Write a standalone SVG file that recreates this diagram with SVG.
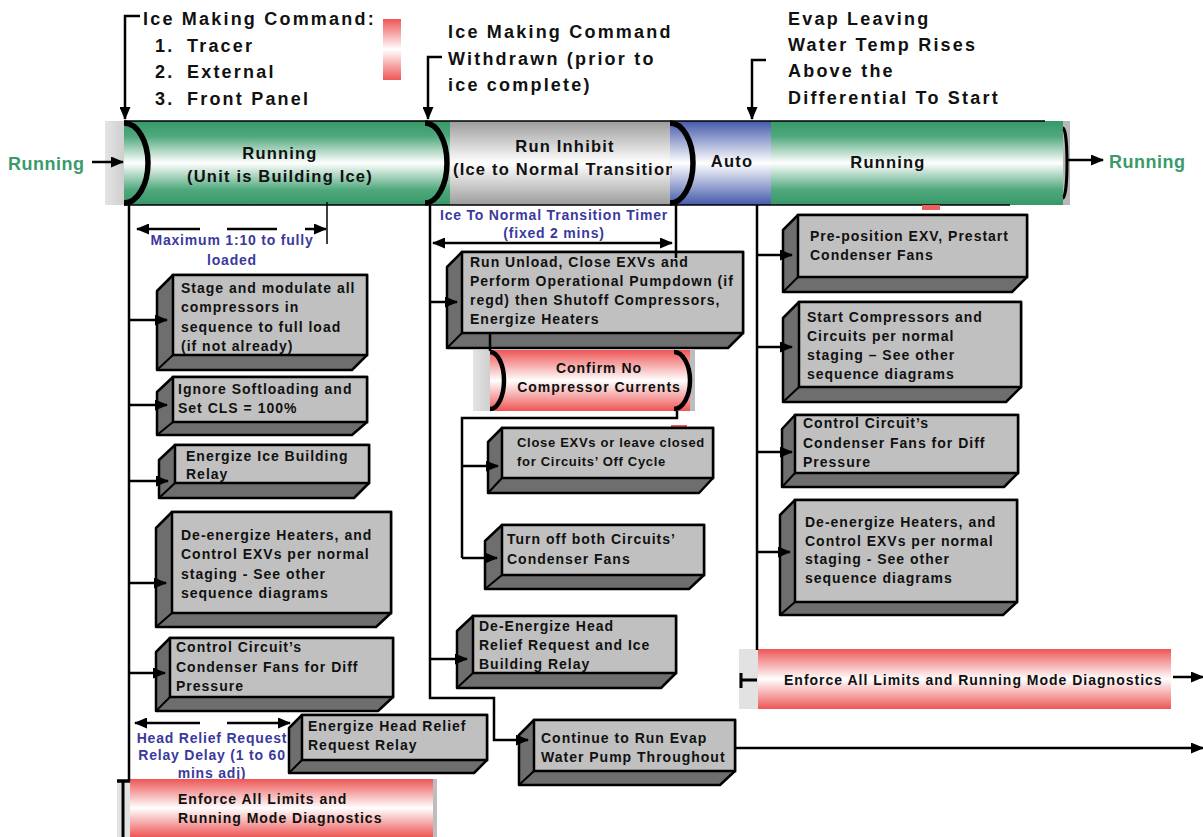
<svg xmlns="http://www.w3.org/2000/svg" width="1203" height="837" viewBox="0 0 1203 837">
<defs>
<linearGradient id="gGreen" x1="0" y1="0" x2="0" y2="1">
<stop offset="0" stop-color="#379868"/><stop offset="0.18" stop-color="#4fa87c"/><stop offset="0.5" stop-color="#ffffff"/><stop offset="0.82" stop-color="#4fa87c"/><stop offset="1" stop-color="#379868"/>
</linearGradient>
<linearGradient id="gGray" x1="0" y1="0" x2="0" y2="1">
<stop offset="0" stop-color="#9c9c9c"/><stop offset="0.5" stop-color="#ffffff"/><stop offset="1" stop-color="#9c9c9c"/>
</linearGradient>
<linearGradient id="gBlue" x1="0" y1="0" x2="0" y2="1">
<stop offset="0" stop-color="#4459aa"/><stop offset="0.5" stop-color="#ffffff"/><stop offset="1" stop-color="#4459aa"/>
</linearGradient>
<linearGradient id="gRed" x1="0" y1="0" x2="0" y2="1">
<stop offset="0" stop-color="#ee5656"/><stop offset="0.5" stop-color="#ffffff"/><stop offset="1" stop-color="#ee5656"/>
</linearGradient>
<linearGradient id="gCap" x1="0" y1="0" x2="1" y2="0">
<stop offset="0" stop-color="#e4e4e4"/><stop offset="1" stop-color="#cfcfcf"/>
</linearGradient>
<marker id="ah" markerWidth="13" markerHeight="11" refX="12" refY="5.5" orient="auto-start-reverse" markerUnits="userSpaceOnUse">
<path d="M0,0 L13,5.5 L0,11 z" fill="#000"/>
</marker>
<clipPath id="clipInhibit"><rect x="450" y="121" width="222" height="84"/></clipPath>
<style>
.side{fill:#6e6e6e;stroke:#000;stroke-width:2.5;stroke-linejoin:round}
.face{fill:#c0c0c0;stroke:#000;stroke-width:2.5}
.edge{stroke:#000;stroke-width:2;fill:none}
.bt{font-family:"Liberation Sans",Arial,sans-serif;font-weight:bold;font-size:14px;letter-spacing:1px;fill:#111}
.bts{font-family:"Liberation Sans",Arial,sans-serif;font-weight:bold;font-size:13px;letter-spacing:0.7px;fill:#111}
.ann{font-family:"Liberation Sans",Arial,sans-serif;font-weight:bold;font-size:18px;letter-spacing:2.2px;fill:#111}
.bar{font-family:"Liberation Sans",Arial,sans-serif;font-weight:bold;font-size:16.5px;letter-spacing:1.2px;fill:#111}
.grn{font-family:"Liberation Sans",Arial,sans-serif;font-weight:bold;font-size:18px;letter-spacing:0.5px;fill:#3a9a6a}
.blu{font-family:"Liberation Sans",Arial,sans-serif;font-weight:bold;font-size:14px;letter-spacing:0.8px;fill:#3a3a9c}
.ln{stroke:#000;stroke-width:2.5;fill:none}
.ar{stroke:#000;stroke-width:2.5;fill:none;marker-end:url(#ah)}
.arc{stroke:#000;stroke-width:5.5;fill:none}
</style>
</defs>

<!-- annotations -->
<g id="ann-cmd">
<text class="ann" x="143" y="25">Ice Making Command:</text>
<text class="ann" y="52"><tspan x="155">1.</tspan><tspan x="187">Tracer</tspan></text>
<text class="ann" y="78"><tspan x="155">2.</tspan><tspan x="187">External</tspan></text>
<text class="ann" y="105"><tspan x="155">3.</tspan><tspan x="187">Front Panel</tspan></text>
</g>
<rect x="383" y="19" width="18" height="61" fill="url(#gRed)"/>
<g id="ann-withdrawn">
<text class="ann" x="448" y="38">Ice Making Command</text>
<text class="ann" x="448" y="65">Withdrawn (prior to</text>
<text class="ann" x="448" y="91">ice complete)</text>
</g>
<g id="ann-evap">
<text class="ann" x="788" y="25">Evap Leaving</text>
<text class="ann" x="788" y="51">Water Temp Rises</text>
<text class="ann" x="788" y="77">Above the</text>
<text class="ann" x="788" y="104">Differential To Start</text>
</g>

<!-- main state bar -->
<g id="state-bar">
<rect x="105" y="121" width="19" height="84" fill="url(#gCap)"/>
<rect x="124" y="121" width="326" height="84" fill="url(#gGreen)"/>
<rect x="450" y="121" width="222" height="84" fill="url(#gGray)"/>
<rect x="670" y="121" width="101" height="84" fill="url(#gBlue)"/>
<rect x="771" y="121" width="293" height="84" fill="url(#gGreen)"/>
<rect x="1063" y="121" width="7" height="84" fill="#b8b8b8"/>
<line x1="124" y1="121" x2="1045" y2="121" stroke="#000" stroke-width="1.5"/>
<line x1="124" y1="205" x2="1010" y2="205" stroke="#000" stroke-width="1.5"/>
<path class="arc" d="M124,123 A24 40 0 0 1 124,203"/>
<path class="arc" d="M425,123 A22 40 0 0 1 425,203"/>
<path class="arc" d="M670,123 A23 40 0 0 1 670,203"/>
<path class="arc" style="stroke-width:3" d="M1063,128 A4 35 0 0 1 1063,198"/>
<rect x="922" y="205" width="18" height="5" fill="#ee6060"/>
</g>
<g id="st-running-ice">
<text class="bar" x="280" y="159" text-anchor="middle">Running</text>
<text class="bar" x="280" y="182" text-anchor="middle">(Unit is Building Ice)</text>
</g>
<g id="st-inhibit">
<text class="bar" x="565" y="152" text-anchor="middle">Run Inhibit</text>
<text class="bar" x="453" y="175" clip-path="url(#clipInhibit)">(Ice to Normal Transition</text>
</g>
<g id="st-auto"><text class="bar" x="732" y="167" text-anchor="middle">Auto</text></g>
<g id="st-running"><text class="bar" x="888" y="168" text-anchor="middle">Running</text></g>
<g id="in-running"><text class="grn" x="8" y="170">Running</text></g>
<g id="out-running"><text class="grn" x="1109" y="168">Running</text></g>

<!-- dimension notes -->
<g id="note-max">
<text class="blu" x="232" y="245" text-anchor="middle">Maximum 1:10 to fully</text>
<text class="blu" x="232" y="265" text-anchor="middle">loaded</text>
</g>
<g id="note-timer">
<text class="blu" x="554" y="220" text-anchor="middle">Ice To Normal Transition Timer</text>
<text class="blu" x="554" y="238" text-anchor="middle">(fixed 2 mins)</text>
</g>
<g id="note-head">
<text class="blu" x="212" y="743" text-anchor="middle">Head Relief Request</text>
<text class="blu" x="212" y="760" text-anchor="middle">Relay Delay (1 to 60</text>
<text class="blu" x="212" y="778" text-anchor="middle">mins adj)</text>
</g>

<!-- left column boxes -->
<g id="box-stage">
<polygon class="side" points="157,291 173,275 367,275 367,355 352,370 157,370"/>
<rect class="face" x="173" y="275" width="194" height="80"/>
<line class="edge" x1="157" y1="370" x2="173" y2="355"/>
<text class="bt" x="181" y="293">Stage and modulate all</text>
<text class="bt" x="181" y="312">compressors in</text>
<text class="bt" x="181" y="332">sequence to full load</text>
<text class="bt" x="181" y="351">(if not already)</text>
</g>
<g id="box-softload">
<polygon class="side" points="157,392 173,377 367,377 367,422 352,435 157,435"/>
<rect class="face" x="173" y="377" width="194" height="45"/>
<line class="edge" x1="157" y1="435" x2="173" y2="422"/>
<text class="bt" x="178" y="394">Ignore Softloading and</text>
<text class="bt" x="178" y="413">Set CLS = 100%</text>
</g>
<g id="box-icerelay">
<polygon class="side" points="159,460 175,445 369,445 369,483 354,498 159,498"/>
<rect class="face" x="175" y="445" width="194" height="38"/>
<line class="edge" x1="159" y1="498" x2="175" y2="483"/>
<text class="bt" x="186" y="461">Energize Ice Building</text>
<text class="bt" x="186" y="479">Relay</text>
</g>
<g id="box-deenergize-l">
<polygon class="side" points="156,528 172,512 391,512 391,613 376,627 156,627"/>
<rect class="face" x="172" y="512" width="219" height="101"/>
<line class="edge" x1="156" y1="627" x2="172" y2="613"/>
<text class="bt" x="181" y="540">De-energize Heaters, and</text>
<text class="bt" x="181" y="559">Control EXVs per normal</text>
<text class="bt" x="181" y="579">staging - See other</text>
<text class="bt" x="181" y="598">sequence diagrams</text>
</g>
<g id="box-condfans-l">
<polygon class="side" points="156,652 170,638 393,638 393,697 378,711 156,711"/>
<rect class="face" x="170" y="638" width="223" height="59"/>
<line class="edge" x1="156" y1="711" x2="170" y2="697"/>
<text class="bt" x="176" y="652">Control Circuit’s</text>
<text class="bt" x="176" y="672">Condenser Fans for Diff</text>
<text class="bt" x="176" y="691">Pressure</text>
</g>
<g id="box-headrelief">
<polygon class="side" points="289,728 302,715 487,715 487,760 474,773 289,773"/>
<rect class="face" x="302" y="715" width="185" height="45"/>
<line class="edge" x1="289" y1="773" x2="302" y2="760"/>
<text class="bt" x="308" y="731">Energize Head Relief</text>
<text class="bt" x="308" y="750">Request Relay</text>
</g>
<g id="bar-enforce-l">
<rect x="117" y="780" width="14" height="57" fill="#e2e2e2"/>
<rect x="130" y="779" width="307" height="58" fill="url(#gRed)"/>
<rect x="433" y="779" width="4" height="58" fill="#bdbdbd"/>
<text class="bt" x="178" y="804">Enforce All Limits and</text>
<text class="bt" x="178" y="823">Running Mode Diagnostics</text>
</g>

<!-- middle column -->
<g id="box-unload">
<polygon class="side" points="447,267 462,252 743,252 743,333 728,348 447,348"/>
<rect class="face" x="462" y="252" width="281" height="81"/>
<line class="edge" x1="447" y1="348" x2="462" y2="333"/>
<text class="bt" x="470" y="267">Run Unload, Close EXVs and</text>
<text class="bt" x="470" y="286">Perform Operational Pumpdown (if</text>
<text class="bt" x="470" y="305">regd) then  Shutoff Compressors,</text>
<text class="bt" x="470" y="324">Energize Heaters</text>
</g>
<g id="pill-confirm">
<rect x="473" y="350" width="17" height="61" fill="url(#gCap)"/>
<rect x="490" y="350" width="200" height="61" fill="url(#gRed)"/>
<rect x="690" y="350" width="5" height="61" fill="#bdbdbd"/>
<path class="arc" style="stroke-width:4.5" d="M490,352 A14 28.5 0 0 1 490,409"/>
<path class="arc" style="stroke-width:4.5" d="M674,352 A16 28.5 0 0 1 674,409"/>
<text class="bt" x="599" y="373" text-anchor="middle">Confirm No</text>
<text class="bt" x="599" y="392" text-anchor="middle">Compressor Currents</text>
</g>
<rect x="671" y="425" width="16" height="4" fill="#ee6060"/>
<g id="box-closeexv">
<polygon class="side" points="488,442 502,428 713,428 713,478 699,493 488,493"/>
<rect class="face" x="502" y="428" width="211" height="50"/>
<line class="edge" x1="488" y1="493" x2="502" y2="478"/>
<text class="bts" x="517" y="447">Close EXVs or leave closed</text>
<text class="bts" x="517" y="466">for Circuits’ Off Cycle</text>
</g>
<g id="box-turnoff">
<polygon class="side" points="485,541 502,525 704,525 704,575 689,589 485,589"/>
<rect class="face" x="502" y="525" width="202" height="50"/>
<line class="edge" x1="485" y1="589" x2="502" y2="575"/>
<text class="bt" x="507" y="544">Turn off both Circuits’</text>
<text class="bt" x="507" y="564">Condenser Fans</text>
</g>
<g id="box-deenergize-head">
<polygon class="side" points="457,631 473,616 676,616 676,673 661,688 457,688"/>
<rect class="face" x="473" y="616" width="203" height="57"/>
<line class="edge" x1="457" y1="688" x2="473" y2="673"/>
<text class="bt" x="479" y="631">De-Energize Head</text>
<text class="bt" x="479" y="650">Relief Request and Ice</text>
<text class="bt" x="479" y="669">Building Relay</text>
</g>
<g id="box-evappump">
<polygon class="side" points="519,735 534,720 735,720 735,771 720,785 519,785"/>
<rect class="face" x="534" y="720" width="201" height="51"/>
<line class="edge" x1="519" y1="785" x2="534" y2="771"/>
<text class="bt" x="541" y="743">Continue to Run Evap</text>
<text class="bt" x="541" y="762">Water Pump Throughout</text>
</g>

<!-- right column -->
<g id="box-preposition">
<polygon class="side" points="783,230 798,215 1027,215 1027,277 1012,292 783,292"/>
<rect class="face" x="798" y="215" width="229" height="62"/>
<line class="edge" x1="783" y1="292" x2="798" y2="277"/>
<text class="bt" x="810" y="241">Pre-position EXV, Prestart</text>
<text class="bt" x="810" y="260">Condenser Fans</text>
</g>
<g id="box-startcomp">
<polygon class="side" points="783,318 799,302 1021,302 1021,387 1006,402 783,402"/>
<rect class="face" x="799" y="302" width="222" height="85"/>
<line class="edge" x1="783" y1="402" x2="799" y2="387"/>
<text class="bt" x="807" y="322">Start Compressors and</text>
<text class="bt" x="807" y="341">Circuits per normal</text>
<text class="bt" x="807" y="360">staging – See other</text>
<text class="bt" x="807" y="379">sequence diagrams</text>
</g>
<g id="box-condfans-r">
<polygon class="side" points="782,429 795,415 1018,415 1018,473 1004,487 782,487"/>
<rect class="face" x="795" y="415" width="223" height="58"/>
<line class="edge" x1="782" y1="487" x2="795" y2="473"/>
<text class="bt" x="803" y="428">Control Circuit’s</text>
<text class="bt" x="803" y="448">Condenser Fans for Diff</text>
<text class="bt" x="803" y="467">Pressure</text>
</g>
<g id="box-deenergize-r">
<polygon class="side" points="780,515 795,500 1017,500 1017,602 1003,615 780,615"/>
<rect class="face" x="795" y="500" width="222" height="102"/>
<line class="edge" x1="780" y1="615" x2="795" y2="602"/>
<text class="bt" x="805" y="527">De-energize Heaters, and</text>
<text class="bt" x="805" y="546">Control EXVs per normal</text>
<text class="bt" x="805" y="564">staging - See other</text>
<text class="bt" x="805" y="583">sequence diagrams</text>
</g>
<g id="bar-enforce-r">
<rect x="739" y="649" width="19" height="60" fill="#e2e2e2"/>
<rect x="758" y="649" width="413" height="60" fill="url(#gRed)"/>
<text class="bt" x="784" y="685">Enforce All Limits and Running Mode Diagnostics</text>
</g>

<!-- connectors -->
<g id="connectors">
<path class="ar" d="M140,16 H125 V119"/>
<path class="ar" d="M442,57 H428 V119"/>
<path class="ar" d="M766,60 H752 V119"/>
<line class="ar" x1="92" y1="162" x2="123" y2="162"/>
<line class="ar" x1="1068" y1="160" x2="1103" y2="160"/>
<line class="ar" x1="200" y1="229" x2="137" y2="229"/>
<line class="ln" x1="227" y1="229" x2="277" y2="229"/>
<line class="ar" x1="305" y1="229" x2="326" y2="229"/>
<line stroke="#000" stroke-width="1.5" x1="327" y1="202" x2="327" y2="244"/>
<line class="ar" x1="433" y1="243" x2="672" y2="243" style="marker-start:url(#ah)"/>
<line class="ln" x1="676" y1="205" x2="676" y2="258"/>
<line class="ar" x1="200" y1="723" x2="135" y2="723"/>
<line class="ar" x1="227" y1="723" x2="290" y2="723"/>
<line class="ln" x1="129" y1="205" x2="129" y2="781"/>
<line class="ar" x1="129" y1="320" x2="167" y2="320"/>
<line class="ar" x1="129" y1="405" x2="167" y2="405"/>
<line class="ar" x1="129" y1="481" x2="168" y2="481"/>
<line class="ar" x1="129" y1="583" x2="166" y2="583"/>
<line class="ar" x1="129" y1="673" x2="165" y2="673"/>
<line stroke="#000" stroke-width="3.5" x1="117" y1="781" x2="130" y2="781"/>
<line stroke="#000" stroke-width="3" x1="123" y1="781" x2="123" y2="837"/>
<path class="ar" d="M430,205 V698 H494 V740 H528"/>
<line class="ar" x1="430" y1="302" x2="457" y2="302"/>
<line class="ar" x1="430" y1="659" x2="467" y2="659"/>
<line class="ln" x1="490" y1="333" x2="490" y2="351"/>
<path class="ln" d="M677,411 V418 H462 V558"/>
<line class="ar" x1="462" y1="466" x2="498" y2="466"/>
<line class="ar" x1="462" y1="558" x2="497" y2="558"/>
<line class="ar" x1="735" y1="748" x2="1203" y2="748"/>
<line class="ln" x1="757" y1="205" x2="757" y2="650"/>
<line class="ar" x1="757" y1="255" x2="792" y2="255"/>
<line class="ar" x1="757" y1="347" x2="792" y2="347"/>
<line class="ar" x1="757" y1="452" x2="792" y2="452"/>
<line class="ar" x1="757" y1="552" x2="790" y2="552"/>
<line stroke="#000" stroke-width="3" x1="740" y1="680" x2="757" y2="680"/>
<line stroke="#000" stroke-width="3" x1="741" y1="673" x2="741" y2="688"/>
<line class="ar" x1="1173" y1="677" x2="1203" y2="677"/>
</g>
</svg>
